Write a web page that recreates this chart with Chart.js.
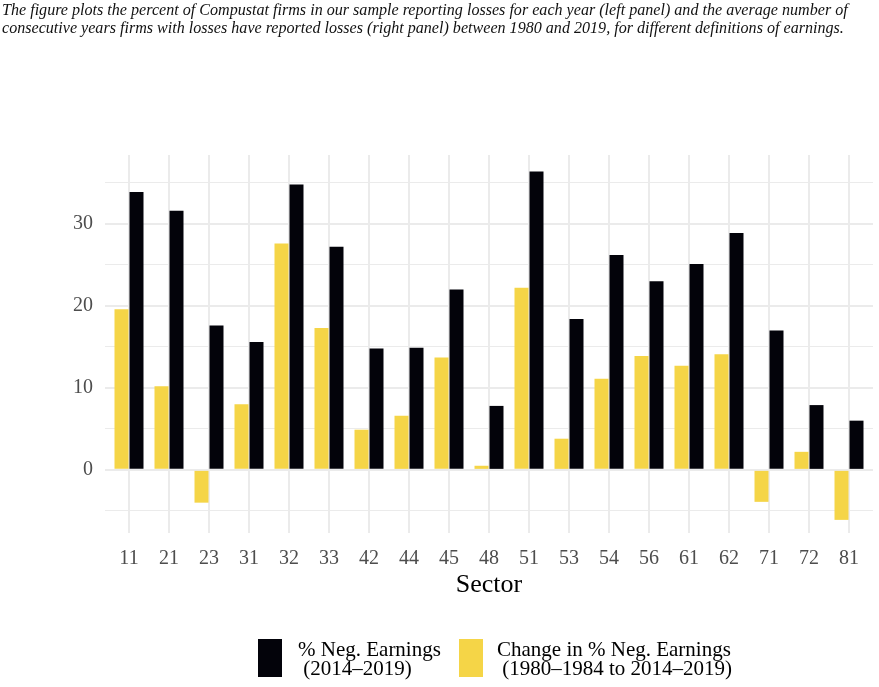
<!DOCTYPE html>
<html>
<head>
<meta charset="utf-8">
<script src="https://cdn.jsdelivr.net/npm/chart.js@4.4.1/dist/chart.umd.min.js"></script>
<style>
  body { margin: 0; background: #fff; }
  #wrap { position: relative; width: 879px; height: 687px; overflow: hidden; }
  #chart { position: absolute; left: 0; top: 0; }
  #caption {
    position: absolute; left: 2px; top: 1px;
    font-family: "Liberation Serif", serif; font-style: italic;
    font-size: 16.1px; line-height: 18px; color: #111; white-space: nowrap;
  }
  .key { position: absolute; top: 639px; width: 24px; height: 38px; }
  .lab {
    position: absolute; top: 640px;
    font-family: "Liberation Serif", serif; font-size: 21px; line-height: 19px;
    color: #000; white-space: pre;
  }
</style>
</head>
<body>
<div id="wrap">
  <canvas id="chart" width="879" height="687"></canvas>
  <div id="caption">The figure plots the percent of Compustat firms in our sample reporting losses for each year (left panel) and the average number of<br>consecutive years firms with losses have reported losses (right panel) between 1980 and 2019, for different definitions of earnings.</div>
  <div id="legend"></div>
</div>
<script>
// sectors (NAICS 2-digit)
const sectors = ['11', '21', '23', '31', '32', '33', '42', '44', '45', '48',
                 '51', '53', '54', '56', '61', '62', '71', '72', '81'];

// % of firms with negative earnings, 2014-2019
const negEarnings = [33.9, 31.6, 17.6, 15.6, 34.8, 27.2, 14.8, 14.9, 22.0, 7.8,
                     36.4, 18.4, 26.2, 23.0, 25.1, 28.9, 17.0, 7.9, 6.0];

// change in % negative earnings, 1980-1984 to 2014-2019
const changeNeg = [19.6, 10.2, -4.0, 8.0, 27.6, 17.3, 4.9, 6.6, 13.7, 0.5,
                   22.2, 3.8, 11.1, 13.9, 12.7, 14.1, -3.9, 2.2, -6.1];

const seriesLabels = [['% Neg. Earnings', ' (2014\u20132019)'],
                      ['Change in % Neg. Earnings', ' (1980\u20131984 to 2014\u20132019)']];
const yTicks = [0, 10, 20, 30];

const BLACK = '#03030a';
const YELLOW = '#f5d547';
const GRID = '#ebebeb';

const toPoints = vals => vals.map((v, i) => ({ x: i, y: v }));

const ctx = document.getElementById('chart').getContext('2d');
const chart = new Chart(ctx, {
  type: 'bar',
  data: {
    datasets: [{
      label: seriesLabels[1].join(''),
      data: toPoints(changeNeg),
      backgroundColor: YELLOW
    }, {
      label: seriesLabels[0].join(''),
      data: toPoints(negEarnings),
      backgroundColor: BLACK
    }]
  },
  options: {
    responsive: false,
    animation: false,
    categoryPercentage: 0.75,
    barPercentage: 0.933,
    layout: { padding: { top: 155, right: 6, left: 0, bottom: 0 } },
    plugins: { legend: { display: false }, tooltip: { enabled: false } },
    scales: {
      x: {
        type: 'linear',
        offset: false,
        min: -0.6,
        max: sectors.length - 0.4,
        afterBuildTicks: s => { s.ticks = sectors.map((c, i) => ({ value: i })); },
        afterFit: s => { s.height = 154; },
        border: { display: false },
        grid: { color: GRID, lineWidth: 2, drawTicks: false, offset: false },
        ticks: {
          padding: 14,
          color: '#4d4d4d',
          font: { family: 'Liberation Serif', size: 20 },
          callback: v => sectors[v]
        },
        title: {
          display: true,
          text: 'Sector',
          color: '#000',
          font: { family: 'Liberation Serif', size: 26 },
          padding: { top: 0, bottom: 86 }
        }
      },
      y: {
        min: -7.7,
        max: 38.4,
        afterBuildTicks: s => {
          const t = [];
          for (let v = -5; v <= 35; v += 5) t.push({ value: v });
          s.ticks = t;
        },
        afterFit: s => { s.width = 105; },
        border: { display: false },
        grid: {
          color: GRID,
          drawTicks: false,
          lineWidth: c => (yTicks.includes(c.tick.value) ? 2 : 1)
        },
        ticks: {
          padding: 12,
          color: '#4d4d4d',
          font: { family: 'Liberation Serif', size: 20 },
          callback: v => (yTicks.includes(v) ? String(v) : '')
        }
      }
    }
  }
});

// legend (black series first, as in the figure)
const legend = document.getElementById('legend');
const items = [
  { color: BLACK, text: seriesLabels[0], keyX: 258, textX: 298 },
  { color: YELLOW, text: seriesLabels[1], keyX: 459, textX: 497 }
];
items.forEach(it => {
  const k = document.createElement('div');
  k.className = 'key';
  k.style.left = it.keyX + 'px';
  k.style.background = it.color;
  legend.appendChild(k);
  const l = document.createElement('div');
  l.className = 'lab';
  l.style.left = it.textX + 'px';
  l.textContent = it.text.join('\n');
  legend.appendChild(l);
});
</script>
</body>
</html>
